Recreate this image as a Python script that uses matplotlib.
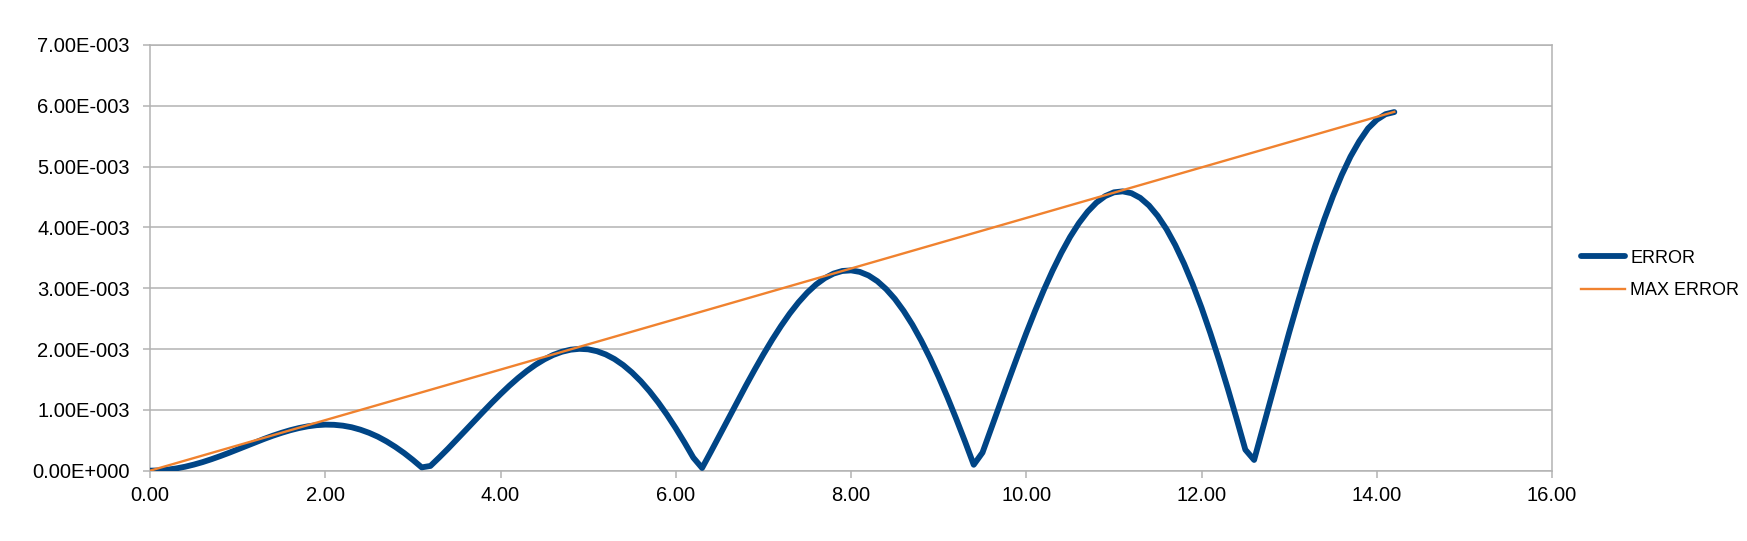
import matplotlib
matplotlib.use("Agg")
import matplotlib.pyplot as plt
import numpy as np
from matplotlib.ticker import FormatStrFormatter, FuncFormatter

# x positions of the samples
x_vals = [
    0.0, 0.1, 0.2, 0.3, 0.4, 0.5, 0.6, 0.7, 0.8, 0.9,
    1.0, 1.1, 1.2, 1.3, 1.4, 1.5, 1.6, 1.7, 1.8, 1.9,
    2.0, 2.1, 2.2, 2.3, 2.4, 2.5, 2.6, 2.7, 2.8, 2.9,
    3.0, 3.1, 3.2, 3.3, 3.4, 3.5, 3.6, 3.7, 3.8, 3.9,
    4.0, 4.1, 4.2, 4.3, 4.4, 4.5, 4.6, 4.7, 4.8, 4.9,
    5.0, 5.1, 5.2, 5.3, 5.4, 5.5, 5.6, 5.7, 5.8, 5.9,
    6.0, 6.1, 6.2, 6.3, 6.4, 6.5, 6.6, 6.7, 6.8, 6.9,
    7.0, 7.1, 7.2, 7.3, 7.4, 7.5, 7.6, 7.7, 7.8, 7.9,
    8.0, 8.1, 8.2, 8.3, 8.4, 8.5, 8.6, 8.7, 8.8, 8.9,
    9.0, 9.1, 9.2, 9.3, 9.4, 9.5, 9.6, 9.7, 9.8, 9.9,
    10.0, 10.1, 10.2, 10.3, 10.4, 10.5, 10.6, 10.7, 10.8, 10.9,
    11.0, 11.1, 11.2, 11.3, 11.4, 11.5, 11.6, 11.7, 11.8, 11.9,
    12.0, 12.1, 12.2, 12.3, 12.4, 12.5, 12.6, 12.7, 12.8, 12.9,
    13.0, 13.1, 13.2, 13.3, 13.4, 13.5, 13.6, 13.7, 13.8, 13.9,
    14.0, 14.1, 14.2,
]

# ERROR series, in units of 1e-3
error_e3 = [
    0.000, 0.004, 0.017, 0.037, 0.065, 0.100, 0.141, 0.188, 0.239, 0.293,
    0.350, 0.408, 0.465, 0.521, 0.574, 0.622, 0.665, 0.701, 0.729, 0.748,
    0.757, 0.754, 0.740, 0.714, 0.674, 0.622, 0.558, 0.480, 0.390, 0.289,
    0.176, 0.054, 0.078, 0.217, 0.361, 0.511, 0.663, 0.816, 0.967, 1.116,
    1.259, 1.396, 1.523, 1.639, 1.742, 1.830, 1.902, 1.955, 1.989, 2.003,
    1.995, 1.964, 1.911, 1.835, 1.736, 1.614, 1.471, 1.306, 1.121, 0.918,
    0.697, 0.462, 0.214, 0.044, 0.310, 0.582, 0.855, 1.128, 1.398, 1.660,
    1.913, 2.153, 2.377, 2.583, 2.767, 2.927, 3.060, 3.165, 3.240, 3.283,
    3.293, 3.268, 3.209, 3.115, 2.986, 2.824, 2.627, 2.400, 2.141, 1.855,
    1.543, 1.208, 0.853, 0.482, 0.097, 0.297, 0.696, 1.097, 1.494, 1.884,
    2.263, 2.626, 2.970, 3.289, 3.581, 3.843, 4.069, 4.258, 4.407, 4.514,
    4.576, 4.592, 4.562, 4.485, 4.360, 4.188, 3.971, 3.709, 3.404, 3.060,
    2.679, 2.263, 1.818, 1.347, 0.854, 0.345, 0.176, 0.703, 1.230, 1.752,
    2.272, 2.771, 3.251, 3.706, 4.128, 4.514, 4.861, 5.164, 5.416, 5.627,
    5.769, 5.861, 5.896,
]

# MAX ERROR straight line (end points)
max_x = [0.0, 14.2]
max_e3 = [0.0, 5.9]

error = np.array(error_e3) * 1e-3
max_err = np.array(max_e3) * 1e-3

plt.rcParams["font.family"] = ["Liberation Sans", "DejaVu Sans"]

fig = plt.figure(figsize=(17.47, 5.41), dpi=100)
ax = fig.add_axes([0.0859, 0.130, 0.8025, 0.787])

grid_col = "#b3b3b3"
ax.plot(x_vals, error, color="#004586", lw=4.2, solid_joinstyle="round",
        solid_capstyle="round", label="ERROR", zorder=3)
ax.plot(max_x, max_err, color="#f0822f", lw=1.7, label="MAX ERROR", zorder=4)

ax.set_xlim(0, 16)
ax.set_ylim(0, 7e-3)
ax.set_xticks(np.arange(0, 17, 2))
ax.set_yticks(np.arange(0, 8) * 1e-3)
ax.xaxis.set_major_formatter(FormatStrFormatter("%.2f"))


def sci_fmt(v, _pos):
    if abs(v) < 1e-12:
        return "0.00E+000"
    exp = int(np.floor(np.log10(abs(v))))
    mant = v / 10 ** exp
    sign = "+" if exp >= 0 else "-"
    return f"{mant:.2f}E{sign}{abs(exp):03d}"


ax.yaxis.set_major_formatter(FuncFormatter(sci_fmt))

ax.grid(axis="y", color=grid_col, lw=1.1)
ax.set_axisbelow(True)
for side in ["left", "bottom", "right", "top"]:
    ax.spines[side].set_color(grid_col)
    ax.spines[side].set_linewidth(1.1)

ax.tick_params(axis="both", colors=grid_col, labelcolor="black",
               labelsize=14.5, length=5, width=1.1)
ax.tick_params(axis="y", pad=9.5)
ax.tick_params(axis="x", pad=6)

fig.legend(loc="center left", bbox_to_anchor=(0.9, 0.493), frameon=False,
           fontsize=13, handlelength=2.4, handletextpad=0.3,
           labelspacing=0.85, borderpad=0)

fig.savefig("out.png", dpi=100)
